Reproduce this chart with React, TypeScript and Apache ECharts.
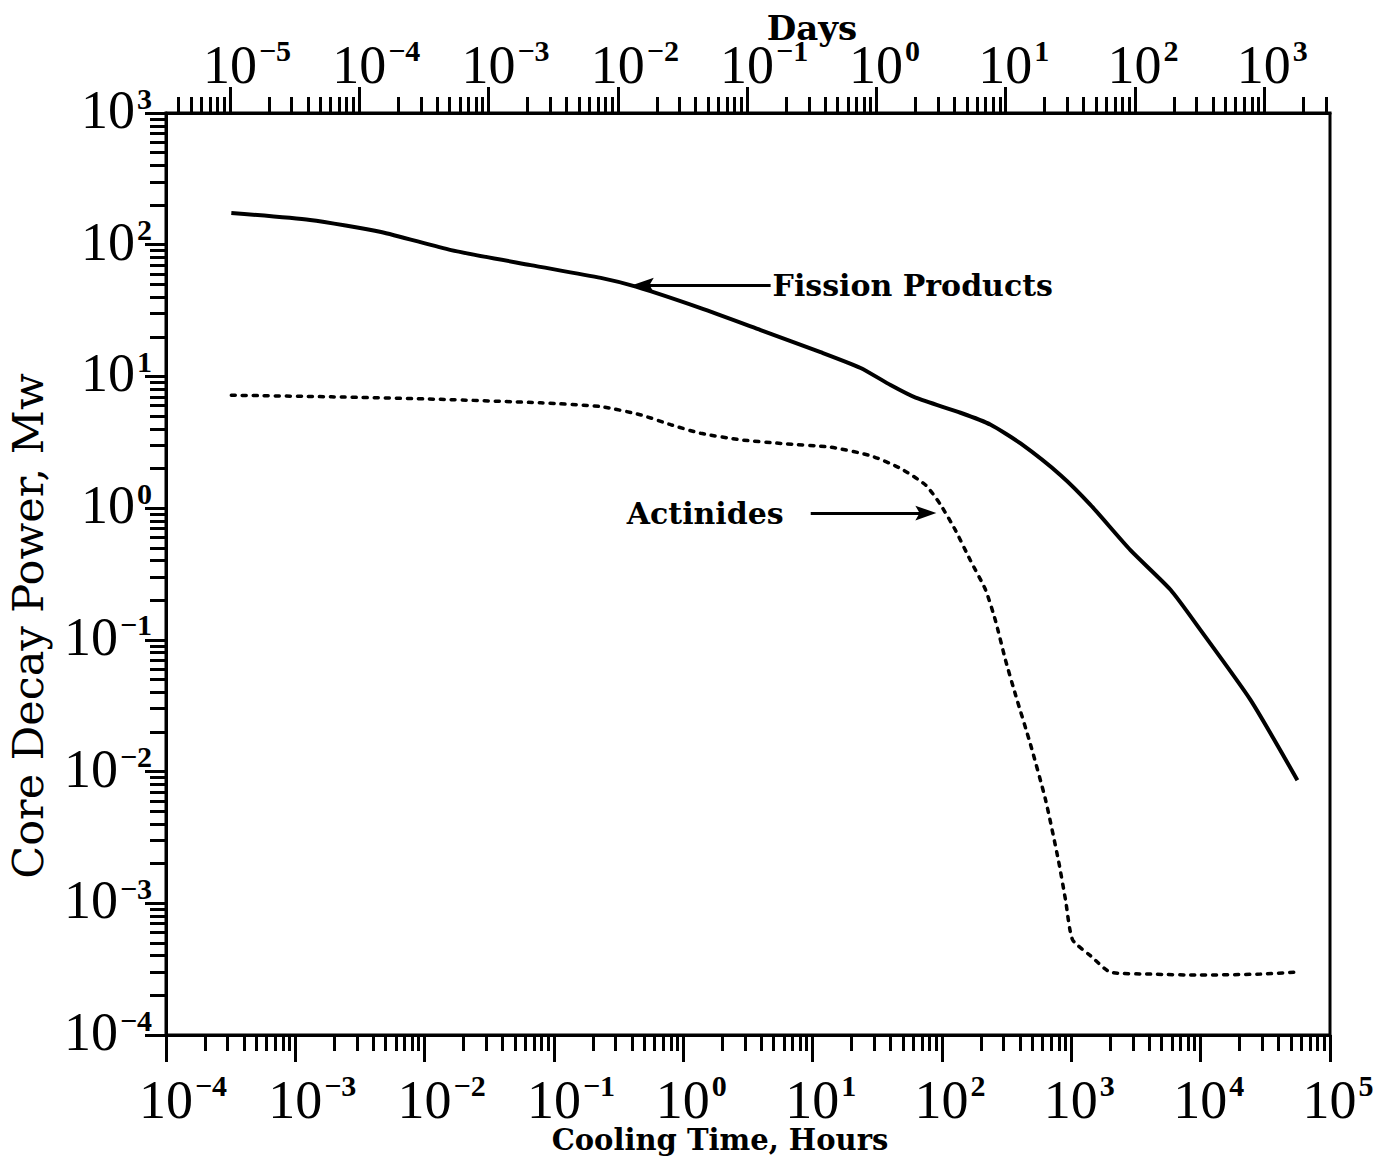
import React, { useEffect, useRef } from "react";
import * as echarts from "echarts";

// Cooling time (hours) and core decay power (MW)
const fissionHours = [3.2e-4, 1.3e-3, 4.6e-3, 0.016, 0.066, 0.23, 0.43, 1.36, 3.96, 11.5, 23.5, 40, 62.5, 139, 238, 405, 826, 1406, 2864, 5848, 9950, 24270, 55980];
const fissionPower = [174, 154, 125, 91, 70, 56, 48, 33, 22.5, 15.3, 11.6, 8.6, 6.9, 5.3, 4.3, 3.1, 1.78, 1.06, 0.48, 0.24, 0.119, 0.035, 0.0086];

const actinideHours = [3.2e-4, 1.9e-3, 0.0133, 0.079, 0.23, 0.47, 0.8, 1.36, 2.78, 5.66, 13.8, 28.1, 47.9, 74.6, 97.5, 127, 166, 217, 259, 310, 371, 484, 632, 796, 902, 1021, 1406, 2009, 4093, 9950, 28970, 54080];
const actinidePower = [7.2, 7.0, 6.7, 6.3, 5.9, 5.1, 4.3, 3.7, 3.3, 3.1, 2.9, 2.5, 2.0, 1.5, 1.06, 0.68, 0.4, 0.24, 0.14, 0.07, 0.038, 0.016, 0.0061, 0.0021, 0.00106, 0.00053, 0.0004, 0.0003, 0.00029, 0.000285, 0.00029, 0.0003];

// Axis decades and minor steps
const hourDecades = [1e-4, 1e-3, 1e-2, 1e-1, 1, 10, 100, 1e3, 1e4, 1e5];
const dayDecades = [1e-5, 1e-4, 1e-3, 1e-2, 1e-1, 1, 10, 100, 1e3];
const powerDecades = [1e-4, 1e-3, 1e-2, 1e-1, 1, 10, 100, 1e3];
const minorSteps = [2, 3, 4, 5, 6, 7, 8, 9];

const hourRange = [1e-4, 1e5];
const dayRange = [3.2e-6, 3.22e3];
const powerRange = [1e-4, 1e3];

// Annotation arrows [hours, MW]
const fissionArrowTail = [4.73, 49.4];
const fissionArrowHead = [0.49, 49.4];
const actinideArrowTail = [9.66, 0.918];
const actinideArrowHead = [75, 0.918];

const SERIF = "Liberation Serif";
const TITLE = "DejaVu Serif";

function majors(decades: number[], range: number[]) {
  return decades.map((v) => Math.min(Math.max(v, range[0] * (1 + 1e-9)), range[1] * (1 - 1e-9)));
}
function minors(range: number[]) {
  const out: number[] = [];
  const lo = Math.floor(Math.log10(range[0]));
  const hi = Math.ceil(Math.log10(range[1]));
  for (let e = lo; e < hi; e++) {
    for (const k of minorSteps) {
      const v = k * Math.pow(10, e);
      if (v > range[0] && v < range[1]) out.push(v);
    }
  }
  return out;
}
function supText(v: number) {
  const e = Math.round(Math.log10(v));
  return e < 0 ? "\u2212" + -e : String(e);
}
const centeredLabel = (v: number) => {
  const s = supText(v);
  return `{p${s.length}| }{b|10}{s|${s}}`;
};
const sideLabel = (v: number) => `{b|10}{s|${supText(v)}}`;

const rich = {
  p1: { width: 16, fontSize: 10 },
  p2: { width: 34, fontSize: 10 },
  b: { fontFamily: SERIF, fontSize: 54, lineHeight: 60, color: "#000" },
  s: { fontFamily: SERIF, fontSize: 30, fontWeight: "bold", lineHeight: 8, verticalAlign: "top", color: "#000", padding: [0, 0, 0, 2] },
};

const lineBlack = { color: "#000", width: 3 };

function xMajor(position: string, range: number[], decades: number[], tickLen: number, margin: number) {
  const vals = majors(decades, range);
  return {
    type: "log",
    position,
    min: range[0],
    max: range[1],
    axisLine: { show: true, lineStyle: lineBlack },
    axisTick: { show: true, length: tickLen, lineStyle: lineBlack, customValues: vals },
    axisLabel: { show: true, customValues: vals, formatter: centeredLabel, rich, margin },
    splitLine: { show: false },
    minorTick: { show: false },
  };
}
function minorAxis(position: string, range: number[], tickLen: number) {
  return {
    type: "log",
    position,
    min: range[0],
    max: range[1],
    axisLine: { show: false },
    axisTick: { show: true, length: tickLen, lineStyle: lineBlack, customValues: minors(range) },
    axisLabel: { show: false },
    splitLine: { show: false },
  };
}

export default function App() {
  const ref = useRef<HTMLDivElement>(null);
  useEffect(() => {
    if (!ref.current) return;
    const chart = echarts.init(ref.current, null, { renderer: "svg" });
    const powerMajors = majors(powerDecades, powerRange);
    const option: any = {
      animation: false,
      backgroundColor: "#fff",
      textStyle: { fontFamily: SERIF },
      grid: {
        left: 166,
        top: 113,
        right: 45,
        bottom: 122,
        show: true,
        borderColor: "#000",
        borderWidth: 3,
        containLabel: false,
        outerBoundsMode: "none",
      },
      xAxis: [
        xMajor("bottom", hourRange, hourDecades, 27, 35),
        minorAxis("bottom", hourRange, 16),
        xMajor("top", dayRange, dayDecades, 26, 18),
        minorAxis("top", dayRange, 16),
      ],
      yAxis: [
        {
          type: "log",
          position: "left",
          min: powerRange[0],
          max: powerRange[1],
          axisLine: { show: true, lineStyle: lineBlack },
          axisTick: { show: true, length: 21, lineStyle: lineBlack, customValues: powerMajors },
          axisLabel: { show: true, customValues: powerMajors, formatter: sideLabel, rich: { ...rich, b: { ...rich.b, padding: [0, 0, 6, 0] } }, margin: 14 },
          splitLine: { show: false },
        },
        minorAxis("left", powerRange, 16),
      ],
      series: [
        {
          name: "Fission Products",
          type: "line",
          xAxisIndex: 0,
          yAxisIndex: 0,
          data: fissionHours.map((h, i) => [h, fissionPower[i]]),
          showSymbol: false,
          smooth: 0.2,
          lineStyle: { color: "#000", width: 4 },
          markLine: {
            silent: true,
            symbol: ["none", "path://M0,0 M20,20 M10,0 L17,20 L10,16 L3,20 Z"],
            symbolSize: 21,
            lineStyle: { type: "solid", color: "#000", width: 3 },
            label: {
              show: true,
              position: "start",
              color: "#000",
              fontFamily: TITLE,
              fontWeight: "bold",
              fontSize: 30,
            },
            data: [
              [
                { coord: fissionArrowTail, label: { formatter: "Fission Products", distance: 2 } },
                { coord: fissionArrowHead },
              ],
              [
                { coord: actinideArrowTail, label: { formatter: "Actinides", distance: 27 } },
                { coord: actinideArrowHead },
              ],
            ],
          },
        },
        {
          name: "Actinides",
          type: "line",
          xAxisIndex: 0,
          yAxisIndex: 0,
          data: actinideHours.map((h, i) => [h, actinidePower[i]]),
          showSymbol: false,
          smooth: 0.2,
          lineStyle: { color: "#000", width: 3.5, type: [4, 7], cap: "round" },
        },
      ],
      graphic: [
        {
          type: "text",
          x: 812,
          y: 28,
          style: { text: "Days", font: `bold 34px "${TITLE}"`, fill: "#000", align: "center", verticalAlign: "middle" },
        },
        {
          type: "text",
          x: 720,
          y: 1140,
          style: { text: "Cooling Time, Hours", font: `bold 29px "${TITLE}"`, fill: "#000", align: "center", verticalAlign: "middle" },
        },
        {
          type: "text",
          x: 28,
          y: 626,
          rotation: Math.PI / 2,
          style: { text: "Core Decay Power, Mw", font: `43px "${TITLE}"`, fill: "#000", align: "center", verticalAlign: "middle" },
        },
      ],
    };
    chart.setOption(option);
    return () => chart.dispose();
  }, []);
  return (
    <div
      ref={ref}
      style={{ position: "fixed", left: 0, top: 0, width: 1375, height: 1157, background: "#fff" }}
    />
  );
}
